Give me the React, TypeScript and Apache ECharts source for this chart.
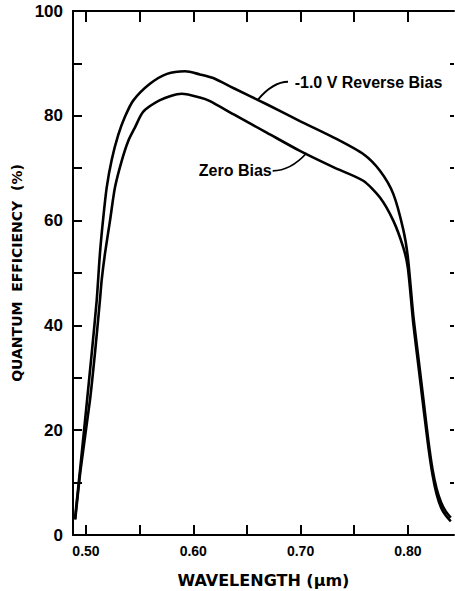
import React, { useEffect, useRef } from "react";
import * as echarts from "echarts";

// Reverse bias (-1.0 V) curve
const reverseX = [
  0.4897, 0.495, 0.501, 0.5055, 0.51, 0.513, 0.5161, 0.5193, 0.524, 0.53, 0.5363, 0.544,
  0.5596, 0.5755, 0.5925, 0.6062, 0.6186, 0.6373, 0.6684, 0.6994, 0.7305, 0.7584, 0.774,
  0.7864, 0.7957, 0.8, 0.805, 0.81, 0.815, 0.8191, 0.823, 0.8268, 0.831, 0.835, 0.84,
];
const reverseY = [
  3, 13.5, 25.7, 35, 44.8, 53.7, 60.5, 66.3, 71.6, 76.3, 79.8, 82.9,
  86.1, 88.0, 88.5, 87.9, 87.2, 85.3, 82.2, 79.0, 75.9, 72.7, 69.5,
  65.1, 58.3, 53.0, 42.0, 33.5, 25.0, 18.0, 12.5, 8.8, 6.2, 4.6, 3.3,
];

// Zero bias curve
const zeroX = [
  0.49, 0.495, 0.5037, 0.5085, 0.513, 0.5146, 0.5177, 0.5224, 0.527, 0.5333, 0.5394, 0.5457,
  0.5534, 0.569, 0.5892, 0.6062, 0.6156, 0.6373, 0.6684, 0.6994, 0.7305, 0.7584, 0.774,
  0.7864, 0.7957, 0.8, 0.805, 0.81, 0.815, 0.8191, 0.823, 0.8268, 0.831, 0.835, 0.84,
];
const zeroY = [
  3, 12.5, 25.7, 35, 44.8, 48.6, 53.7, 60.0, 66.3, 71.4, 75.2, 77.8,
  80.8, 83.0, 84.2, 83.5, 82.8, 80.3, 76.8, 73.3, 70.2, 67.6, 64.4,
  60.0, 54.9, 51.0, 40.5, 32.0, 23.5, 16.8, 11.5, 7.8, 5.2, 3.8, 2.6,
];

// Annotation anchors (data coordinates)
const reverseLabelAt = [0.6945, 86.3];
const reverseLeaderX = [0.6883, 0.6745, 0.6603];
const reverseLeaderY = [86.5, 86.5, 83.1];
const zeroLabelAt = [0.6731, 69.5];
const zeroLeaderX = [0.674, 0.6905, 0.7057];
const zeroLeaderY = [69.5, 69.5, 72.9];

const xTicks = [0.5, 0.55, 0.6, 0.65, 0.7, 0.75, 0.8];
const xLabels = [0.5, 0.6, 0.7, 0.8];

const seriesNames = ["-1.0 V Reverse Bias", "Zero Bias"];

const X_MIN = 0.4879;
const X_MAX = 0.843;
const Y_MIN = 0;
const Y_MAX = 100;

const BLACK = "#000";
const LABEL_FONT = "'Liberation Sans', Arial, sans-serif";
const NAME_FONT = "'DejaVu Sans', sans-serif";

export default function App() {
  const ref = useRef<HTMLDivElement>(null);

  useEffect(() => {
    if (!ref.current) return;
    const chart = echarts.init(ref.current, undefined, { renderer: "svg" });

    const pairs = (xs: number[], ys: number[]) => xs.map((x, i) => [x, ys[i]]);

    const lineSeries = (name: string, data: number[][]) => ({
      type: "line",
      name,
      data,
      showSymbol: false,
      symbol: "none",
      smooth: 0.25,
      lineStyle: { color: BLACK, width: 2.6 },
      silent: true,
    });

    chart.setOption({
      animation: false,
      backgroundColor: "#fff",
      grid: { left: 73, top: 11, width: 381, height: 524, outerBoundsMode: "none" },
      xAxis: [
        {
          type: "value",
          position: "bottom",
          min: X_MIN,
          max: X_MAX,
          axisLine: { show: true, onZero: false, lineStyle: { color: BLACK, width: 2 } },
          axisTick: {
            show: true,
            inside: true,
            length: 10,
            customValues: xTicks,
            lineStyle: { color: BLACK, width: 2 },
          },
          axisLabel: {
            show: true,
            customValues: xLabels,
            formatter: (v: number) => v.toFixed(2),
            color: BLACK,
            fontFamily: LABEL_FONT,
            fontWeight: "bold",
            fontSize: 14,
            margin: 9,
          },
          splitLine: { show: false },
          name: "WAVELENGTH (μm)",
          nameLocation: "middle",
          nameGap: 37,
          nameTextStyle: {
            color: BLACK,
            fontFamily: NAME_FONT,
            fontWeight: "bold",
            fontSize: 16,
          },
        },
        {
          type: "value",
          position: "top",
          min: X_MIN,
          max: X_MAX,
          axisLine: { show: true, onZero: false, lineStyle: { color: BLACK, width: 2 } },
          axisTick: {
            show: true,
            inside: true,
            length: 11,
            customValues: xTicks,
            lineStyle: { color: BLACK, width: 2 },
          },
          axisLabel: { show: false, customValues: xTicks },
          splitLine: { show: false },
        },
      ],
      yAxis: [
        {
          type: "value",
          position: "left",
          min: Y_MIN,
          max: Y_MAX,
          interval: 10,
          axisLine: { show: true, onZero: false, lineStyle: { color: BLACK, width: 2 } },
          axisTick: { show: true, inside: true, length: 9, lineStyle: { color: BLACK, width: 2 } },
          axisLabel: {
            show: true,
            formatter: (v: number) => (v % 20 === 0 ? String(v) : ""),
            color: BLACK,
            fontFamily: LABEL_FONT,
            fontWeight: "bold",
            fontSize: 17,
            margin: 10,
          },
          splitLine: { show: false },
          name: "QUANTUM  EFFICIENCY  (%)",
          nameLocation: "middle",
          nameGap: 48,
          nameTextStyle: {
            color: BLACK,
            fontFamily: NAME_FONT,
            fontWeight: "bold",
            fontSize: 14,
          },
        },
        {
          type: "value",
          position: "right",
          min: Y_MIN,
          max: Y_MAX,
          interval: 10,
          axisLine: { show: false, onZero: false },
          axisTick: { show: true, inside: true, length: 4, lineStyle: { color: BLACK, width: 2 } },
          axisLabel: { show: false },
          splitLine: { show: false },
        },
      ],
      series: [
        lineSeries(seriesNames[0], pairs(reverseX, reverseY)),
        lineSeries(seriesNames[1], pairs(zeroX, zeroY)),
      ],
    });

    const px = (x: number, y: number) =>
      chart.convertToPixel({ xAxisIndex: 0, yAxisIndex: 0 }, [x, y]) as number[];

    const rText = px(reverseLabelAt[0], reverseLabelAt[1]);
    const rA = px(reverseLeaderX[0], reverseLeaderY[0]);
    const rC = px(reverseLeaderX[1], reverseLeaderY[1]);
    const rB = px(reverseLeaderX[2], reverseLeaderY[2]);

    const zText = px(zeroLabelAt[0], zeroLabelAt[1]);
    const zA = px(zeroLeaderX[0], zeroLeaderY[0]);
    const zC = px(zeroLeaderX[1], zeroLeaderY[1]);
    const zB = px(zeroLeaderX[2], zeroLeaderY[2]);

    const textStyle = {
      fill: BLACK,
      fontFamily: LABEL_FONT,
      fontWeight: "bold",
      fontSize: 16,
      verticalAlign: "middle",
    };

    chart.setOption({
      graphic: [
        {
          type: "text",
          x: rText[0],
          y: rText[1],
          style: { ...textStyle, text: seriesNames[0], align: "left" },
        },
        {
          type: "bezierCurve",
          shape: { x1: rA[0], y1: rA[1], cpx1: rC[0], cpy1: rC[1], x2: rB[0], y2: rB[1] },
          style: { stroke: BLACK, lineWidth: 1.8, fill: "none" },
        },
        {
          type: "text",
          x: zText[0],
          y: zText[1],
          style: { ...textStyle, text: seriesNames[1], align: "right" },
        },
        {
          type: "bezierCurve",
          shape: { x1: zA[0], y1: zA[1], cpx1: zC[0], cpy1: zC[1], x2: zB[0], y2: zB[1] },
          style: { stroke: BLACK, lineWidth: 1.8, fill: "none" },
        },
      ],
    });

    return () => chart.dispose();
  }, []);

  return <div ref={ref} style={{ position: "absolute", left: 0, top: 0, width: 455, height: 591 }} />;
}
